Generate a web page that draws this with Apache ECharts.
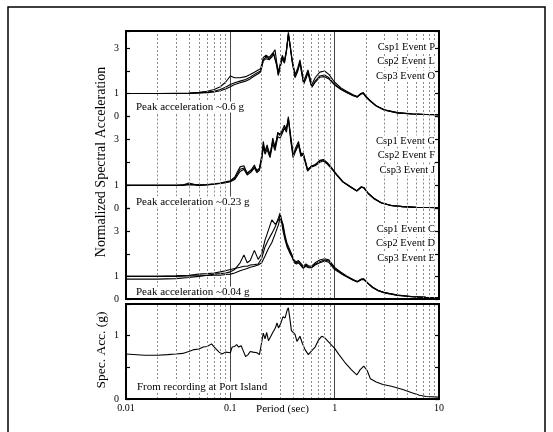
<!DOCTYPE html>
<html>
<head>
<meta charset="utf-8">
<script src="https://cdn.jsdelivr.net/npm/echarts@6/dist/echarts.min.js"></script>
<style>html,body{margin:0;padding:0;background:#fff}#c{width:553px;height:432px}</style>
</head>
<body>
<div id="c"></div>
<script>
// ---- data ----
const xTickLabels = ['0.01', '0.1', '1', '10'];
const yLabelValues = [0, 1, 3];
const yLabelValuesBottom = [0, 1];
const minorGridPeriods = [0.02,0.03,0.04,0.05,0.06,0.07,0.08,0.09,0.2,0.3,0.4,0.5,0.6,0.7,0.8,0.9,2,3,4,5,6,7,8,9];

const periods1 = [0.01,0.015,0.02,0.03,0.04,0.05,0.06,0.07,0.08,0.09,
 0.1,0.11,0.124,0.14,0.155,0.17,0.185,0.195,0.207,0.22,
 0.235,0.25,0.26,0.268,0.278,0.288,0.3,0.315,0.33,0.345,
 0.36,0.375,0.39,0.417,0.44,0.465,0.485,0.505,0.53,0.555,
 0.58,0.605,0.65,0.72,0.8,0.88,1.0,1.15,1.3,1.5,
 1.65,1.78,1.88,2.0,2.2,2.5,3.0,4.0,5.5,7.5,10];
const csp1EventP = [1.0,1.0,1.0,1.0,1.01,1.03,1.06,1.1,1.18,1.28,
 1.4,1.48,1.55,1.62,1.72,1.85,1.95,2.0,2.5,2.62,
 2.55,2.68,2.8,2.88,2.3,1.85,2.2,2.62,2.4,2.9,
 3.72,3.1,2.5,1.75,2.0,2.4,1.9,1.45,1.7,1.97,
 1.6,1.3,1.55,1.78,1.82,1.7,1.4,1.2,1.06,0.92,
 0.85,0.98,1.02,0.85,0.66,0.45,0.27,0.14,0.09,0.07,0.06];
const csp2EventL = [1.0,1.0,1.0,1.01,1.02,1.05,1.1,1.18,1.3,1.5,
 1.78,1.7,1.7,1.75,1.85,1.95,2.05,2.1,2.6,2.7,
 2.6,2.75,2.85,2.95,2.4,1.95,2.3,2.7,2.45,2.95,
 3.6,3.05,2.55,1.85,2.1,2.5,2.0,1.55,1.8,2.05,
 1.7,1.4,1.7,1.95,2.0,1.85,1.5,1.25,1.1,0.95,
 0.87,1.0,1.04,0.87,0.68,0.46,0.28,0.15,0.1,0.07,0.06];
const csp3EventO = [1.0,1.0,1.0,1.0,1.0,1.02,1.04,1.07,1.12,1.2,
 1.3,1.4,1.48,1.55,1.65,1.78,1.88,1.95,2.45,2.55,
 2.5,2.62,2.75,2.8,2.25,1.8,2.15,2.55,2.35,2.85,
 3.65,3.15,2.45,1.7,1.95,2.35,1.85,1.42,1.65,1.92,
 1.55,1.28,1.5,1.72,1.75,1.65,1.38,1.18,1.05,0.9,
 0.84,0.97,1.0,0.84,0.65,0.44,0.26,0.14,0.09,0.07,0.06];

const periods2 = [0.01,0.02,0.03,0.035,0.04,0.045,0.05,0.06,0.07,0.08,
 0.09,0.1,0.11,0.124,0.135,0.145,0.16,0.17,0.18,0.19,
 0.2,0.207,0.215,0.225,0.24,0.255,0.268,0.285,0.3,0.315,
 0.33,0.345,0.36,0.38,0.4,0.42,0.45,0.475,0.5,0.525,
 0.55,0.6,0.65,0.72,0.78,0.85,0.95,1.05,1.2,1.4,
 1.63,1.8,1.9,2.1,2.4,2.8,3.5,4.5,6,8,10];
const csp1EventG = [1.0,1.0,1.0,1.02,1.1,1.05,1.02,1.04,1.07,1.1,
 1.15,1.2,1.35,1.8,1.85,1.5,1.7,1.88,1.6,1.7,
 2.3,2.9,2.45,2.75,2.25,3.05,2.6,3.3,3.15,3.4,
 3.6,3.4,3.97,3.0,2.25,2.6,2.9,2.3,2.4,2.0,
 1.65,1.85,1.88,2.05,2.1,1.95,1.7,1.45,1.15,0.95,
 0.76,0.93,0.9,0.65,0.42,0.25,0.13,0.08,0.05,0.04,0.03];
const csp2EventF = [1.0,1.0,1.0,1.01,1.05,1.03,1.01,1.03,1.06,1.09,
 1.13,1.18,1.3,1.7,1.75,1.55,1.65,1.8,1.65,1.75,
 2.2,2.75,2.5,2.65,2.35,2.9,2.7,3.2,3.25,3.3,
 3.45,3.5,3.85,3.1,2.35,2.5,2.8,2.4,2.3,2.05,
 1.7,1.82,1.9,2.08,2.12,1.98,1.72,1.47,1.16,0.96,
 0.77,0.94,0.91,0.66,0.43,0.25,0.13,0.08,0.05,0.04,0.03];
const csp3EventJ = [1.0,1.0,1.0,1.0,1.03,1.02,1.0,1.02,1.05,1.08,
 1.12,1.16,1.25,1.6,1.7,1.45,1.6,1.75,1.55,1.65,
 2.1,2.65,2.35,2.55,2.2,2.8,2.5,3.1,3.05,3.25,
 3.5,3.3,3.9,2.9,2.2,2.45,2.75,2.25,2.35,1.95,
 1.62,1.8,1.85,2.0,2.05,1.92,1.68,1.43,1.14,0.94,
 0.75,0.92,0.89,0.64,0.41,0.24,0.12,0.08,0.05,0.04,0.03];

const periods3 = [0.01,0.02,0.03,0.04,0.05,0.06,0.07,0.08,0.09,0.1,
 0.11,0.124,0.135,0.145,0.155,0.17,0.185,0.2,0.215,0.23,
 0.25,0.27,0.29,0.3,0.31,0.32,0.335,0.35,0.37,0.39,
 0.41,0.43,0.45,0.47,0.5,0.53,0.56,0.6,0.65,0.72,
 0.8,0.88,1.0,1.15,1.3,1.5,1.65,1.8,1.9,2.1,
 2.3,2.6,3.0,4.0,5.5,7.5,10];
const csp1EventC = [1.0,1.0,1.02,1.05,1.1,1.12,1.15,1.2,1.25,1.3,
 1.35,1.4,1.45,1.45,1.5,1.52,1.55,1.8,2.3,2.6,
 2.9,3.2,3.6,3.8,3.5,3.2,2.7,2.35,2.1,1.9,
 1.65,1.6,1.65,1.55,1.4,1.5,1.42,1.4,1.55,1.65,
 1.72,1.68,1.35,1.15,1.0,0.85,0.76,0.87,0.88,0.68,
 0.52,0.38,0.28,0.17,0.1,0.07,0.06];
const csp2EventD = [0.88,0.88,0.9,0.95,1.0,1.05,1.1,1.12,1.15,1.2,
 1.3,1.6,1.95,1.6,1.7,2.15,1.75,2.0,2.6,3.0,
 3.5,3.3,3.5,3.7,3.4,3.0,2.6,2.3,2.05,1.85,
 1.6,1.55,1.6,1.5,1.35,1.45,1.38,1.38,1.5,1.6,
 1.68,1.62,1.3,1.12,0.98,0.83,0.75,0.85,0.86,0.67,
 0.51,0.37,0.27,0.16,0.1,0.07,0.06];
const csp3EventE = [1.0,1.0,1.0,1.02,1.03,1.04,1.05,1.05,1.08,1.1,
 1.15,1.25,1.3,1.35,1.4,1.45,1.5,1.6,1.9,2.2,
 2.5,2.9,3.3,3.6,3.6,3.3,2.8,2.45,2.2,1.95,
 1.7,1.65,1.7,1.6,1.45,1.55,1.47,1.45,1.6,1.72,
 1.78,1.73,1.4,1.18,1.02,0.86,0.77,0.88,0.89,0.69,
 0.53,0.39,0.29,0.18,0.11,0.08,0.06];

const periods4 = [0.01,0.015,0.02,0.025,0.03,0.035,0.04,0.045,0.05,0.055,
 0.06,0.066,0.072,0.078,0.083,0.09,0.1,0.104,0.11,0.115,
 0.12,0.127,0.133,0.14,0.148,0.155,0.165,0.18,0.19,0.2,
 0.207,0.215,0.223,0.232,0.24,0.255,0.27,0.28,0.29,0.305,
 0.32,0.335,0.35,0.36,0.37,0.385,0.4,0.417,0.435,0.45,
 0.465,0.49,0.52,0.56,0.6,0.65,0.7,0.75,0.8,0.9,
 1.0,1.1,1.25,1.45,1.63,1.75,1.9,2.05,2.2,2.5,
 2.9,3.5,4.5,5.5,6.5,7.5,10];
const portIsland = [0.71,0.69,0.69,0.70,0.71,0.72,0.75,0.78,0.79,0.82,
 0.83,0.87,0.80,0.74,0.71,0.74,0.73,0.82,0.83,0.86,
 0.82,0.84,0.76,0.67,0.70,0.75,0.74,0.73,0.70,0.9,
 1.04,0.95,1.05,0.92,0.9,1.05,1.12,1.2,1.12,1.2,
 1.3,1.28,1.4,1.44,1.3,1.08,1.1,1.02,0.91,0.92,
 0.99,0.88,0.78,0.7,0.76,0.82,0.93,0.99,0.97,0.88,
 0.8,0.7,0.58,0.46,0.38,0.46,0.52,0.45,0.32,0.27,
 0.23,0.2,0.15,0.1,0.06,0.04,0.03];

const legendNames = [
  ['Csp1 Event P','Csp2 Event L','Csp3 Event O'],
  ['Csp1 Event G','Csp2 Event F','Csp3 Event J'],
  ['Csp1 Event C','Csp2 Event D','Csp3 Event E']
];
const peakNotes = ['Peak acceleration ~0.6 g','Peak acceleration ~0.23 g','Peak acceleration ~0.04 g'];
const bottomNote = 'From recording at Port Island';
const xAxisTitle = 'Period (sec)';

// ---- chart ----
const FONT = "'Liberation Serif','Times New Roman',serif";
const L = 126, W = 313;
const grids = [
  {left: L, width: W, top: 31, height: 85},
  {left: L, width: W, top: 116, height: 92.5},
  {left: L, width: W, top: 208.5, height: 90.5},
  {left: L, width: W, top: 304, height: 95}
];
const yMax = [3.78, 4.0, 4.0, 1.5];
const yInt = [1, 1, 1, 0.5];

const zip = (xs, ys) => xs.map((x, i) => [x, ys[i]]);
const panels = [
  [periods1, [csp1EventP, csp2EventL, csp3EventO]],
  [periods2, [csp1EventG, csp2EventF, csp3EventJ]],
  [periods3, [csp1EventC, csp2EventD, csp3EventE]],
  [periods4, [portIsland]]
];

const xAxes = grids.map((g, i) => ({
  type: 'log', logBase: 10, min: 0.01, max: 10, gridIndex: i,
  axisLine: {show: false}, axisTick: {show: false},
  axisLabel: {show: i === 3, color: '#000', fontFamily: FONT, fontSize: 10, margin: 4,
    formatter: (v, idx) => xTickLabels[idx] !== undefined ? xTickLabels[idx] : ''},
  splitLine: {show: true, lineStyle: {color: '#444', width: 1}}
}));

const yAxes = [];
grids.forEach((g, i) => {
  const lab = i === 3 ? yLabelValuesBottom : yLabelValues;
  yAxes.push({
    type: 'value', gridIndex: i, min: 0, max: yMax[i], interval: yInt[i],
    axisLine: {show: false},
    axisTick: {show: true, inside: true, length: 4, lineStyle: {color: '#000', width: 1.2}},
    axisLabel: {color: '#000', fontFamily: FONT, fontSize: 10, margin: 7,
      formatter: v => lab.some(t => Math.abs(t - v) < 1e-6) ? String(v) : ''},
    splitLine: {show: false}
  });
  yAxes.push({
    type: 'value', gridIndex: i, min: 0, max: yMax[i], interval: yInt[i], position: 'right',
    axisLine: {show: false},
    axisTick: {show: true, inside: true, length: 4, lineStyle: {color: '#000', width: 1.2}},
    axisLabel: {show: false}, splitLine: {show: false}
  });
});

const series = [];
panels.forEach((p, gi) => {
  p[1].forEach((vals, si) => {
    const s = {
      type: 'line', xAxisIndex: gi, yAxisIndex: gi * 2, data: zip(p[0], vals),
      showSymbol: false, symbol: 'none', silent: true, animation: false,
      lineStyle: {color: '#000', width: 1.1}, z: 3
    };
    if (si === 0) {
      s.markLine = {
        silent: true, symbol: ['none', 'none'], animation: false,
        label: {show: false},
        lineStyle: {color: '#8a8a8a', width: 1, type: [2, 2]},
        data: minorGridPeriods.map(v => ({xAxis: v}))
      };
    }
    series.push(s);
  });
});

const graphic = [
  {type: 'rect', shape: {x: 8, y: 7, width: 537, height: 440}, style: {fill: 'none', stroke: '#000', lineWidth: 1.5}, z: 10},
  {type: 'rect', shape: {x: L, y: 31, width: W, height: 268}, style: {fill: 'none', stroke: '#000', lineWidth: 2}, z: 10},
  {type: 'rect', shape: {x: L, y: 304, width: W, height: 95}, style: {fill: 'none', stroke: '#000', lineWidth: 2}, z: 10},
  {type: 'text', x: 101, y: 162, rotation: Math.PI / 2, z: 10,
    style: {text: 'Normalized Spectral Acceleration', font: '14px ' + FONT, fill: '#000', textAlign: 'center', textVerticalAlign: 'middle'}},
  {type: 'text', x: 101, y: 350, rotation: Math.PI / 2, z: 10,
    style: {text: 'Spec. Acc. (g)', font: '13.5px ' + FONT, fill: '#000', textAlign: 'center', textVerticalAlign: 'middle'}},
  {type: 'text', x: L + W / 2, y: 409, z: 10,
    style: {text: xAxisTitle, font: '11px ' + FONT, fill: '#000', textAlign: 'center', textVerticalAlign: 'middle'}}
];
const legendY = [[47, 61.5, 76], [141, 155.5, 170], [229, 243.5, 258]];
legendNames.forEach((names, pi) => names.forEach((n, k) => {
  graphic.push({type: 'text', x: 435, y: legendY[pi][k], z: 10,
    style: {text: n, font: '10.5px ' + FONT, fill: '#000', textAlign: 'right', textVerticalAlign: 'middle', backgroundColor: '#fff'}});
}));
const noteY = [107, 202, 292];
peakNotes.forEach((t, i) => graphic.push({type: 'text', x: 136, y: noteY[i], z: 10,
  style: {text: t, font: '11px ' + FONT, fill: '#000', textAlign: 'left', textVerticalAlign: 'middle', backgroundColor: '#fff'}}));
graphic.push({type: 'text', x: 137, y: 387, z: 10,
  style: {text: bottomNote, font: '11px ' + FONT, fill: '#000', textAlign: 'left', textVerticalAlign: 'middle', backgroundColor: '#fff'}});

const chart = echarts.init(document.getElementById('c'), null, {renderer: 'canvas'});
chart.setOption({
  animation: false,
  backgroundColor: '#fff',
  grid: grids,
  xAxis: xAxes,
  yAxis: yAxes,
  series: series,
  graphic: graphic
});
</script>
</body>
</html>
